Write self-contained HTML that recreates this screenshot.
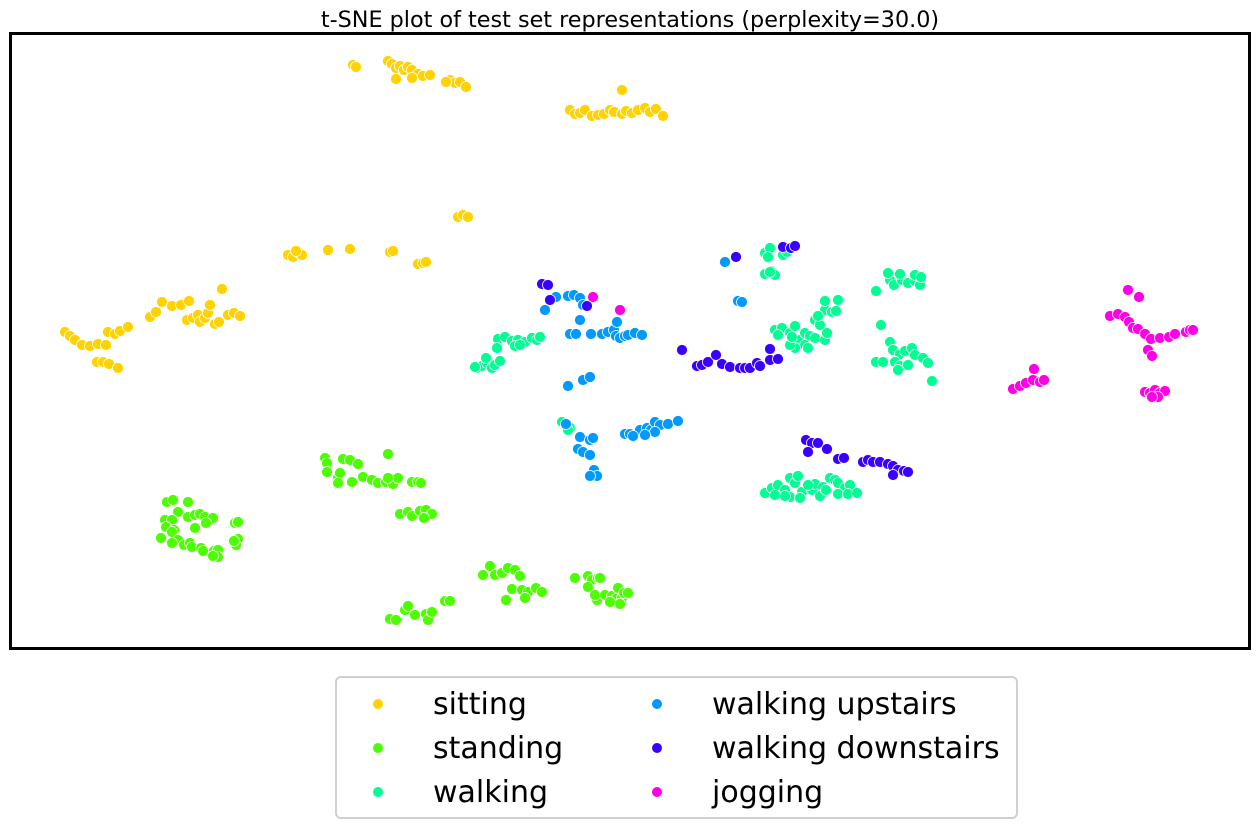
<!DOCTYPE html>
<html><head><meta charset="utf-8"><style>
body{margin:0;background:#fff;}
svg{display:block;font-family:"DejaVu Sans","Liberation Sans",sans-serif;}
</style></head><body>
<svg id="chart" width="1260" height="829" viewBox="0 0 1260 829">
<text x="630" y="27" text-anchor="middle" font-size="22.3" fill="#000">t-SNE plot of test set representations (perplexity=30.0)</text>
<g id="points"></g>
<rect x="10.5" y="33.5" width="1239" height="615" fill="none" stroke="#000" stroke-width="3"/>
<g id="legend"></g>
</svg>
<script>
const categories = ["sitting","standing","walking","walking upstairs","walking downstairs","jogging"];
const colors = ["#ffd200","#4cff00","#00ff92","#0099ff","#3a00ff","#ff00e6"];
const sitting = [[-27.7,27.6],[-27.4,27.4],[-24.2,28.0],[-23.8,27.7],[-23.4,27.3],[-23.0,27.5],[-22.6,27.1],[-22.2,27.4],[-21.8,27.1],[-23.4,26.2],[-21.2,26.7],[-20.7,26.5],[-20.0,26.6],[-21.8,26.3],[-18.0,26.1],[-17.5,25.8],[-17.0,25.9],[-16.4,25.4],[-18.4,25.9],
[-6.0,23.1],[-5.5,22.7],[-5.0,22.8],[-4.5,23.1],[-3.8,22.5],[-3.2,22.6],[-2.6,22.7],[-2.0,23.1],[-1.6,22.9],[-0.8,22.7],[-0.4,23.0],[0.2,22.8],[0.8,23.1],[1.5,23.3],[2.0,22.9],[2.6,23.2],[3.3,22.5],[-0.8,25.1],
[-17.2,12.4],[-16.7,12.6],[-16.2,12.4],
[-34.2,8.6],[-33.7,8.4],[-33.2,8.9],[-32.8,8.6],[-33.4,9.0],[-30.2,9.1],[-28.0,9.2],[-24.0,8.9],[-23.7,9.0],[-21.2,7.7],[-20.7,7.8],[-20.4,7.9],
[-56.5,0.9],[-56.0,0.5],[-55.5,0.1],[-54.8,-0.4],[-54.0,-0.5],[-53.2,-0.3],[-52.4,-0.4],[-52.2,0.9],[-51.5,0.7],[-51.0,1.0],[-50.2,1.4],[-53.3,-2.1],[-52.7,-2.1],[-52.1,-2.3],[-51.2,-2.7],[-48.0,2.4],[-47.4,2.9],[-46.8,3.9],[-45.8,3.5],[-44.9,3.6],[-44.1,4.0],[-44.3,2.1],[-43.7,2.3],[-43.2,2.6],[-43.0,1.9],[-42.5,2.3],[-42.2,2.8],[-41.5,1.7],[-41.1,1.9],[-40.8,5.2],[-40.2,2.6],[-39.6,2.8],[-39.0,2.5],[-42.0,3.6]];
const standing = [[-46.3,-16.1],[-45.7,-15.9],[-45.2,-17.1],[-46.5,-17.9],[-45.8,-17.9],[-46.4,-18.6],[-45.6,-18.9],[-46.9,-19.7],[-45.8,-19.1],[-44.2,-16.1],[-44.2,-17.6],[-43.5,-17.4],[-43.0,-17.3],[-42.5,-17.6],[-41.7,-17.7],[-43.5,-18.7],[-42.4,-18.2],[-45.2,-19.9],[-45.8,-20.2],[-44.6,-20.4],[-44.0,-20.2],[-43.8,-20.6],[-42.9,-20.7],[-42.7,-21.0],[-41.6,-21.0],[-41.2,-20.9],[-41.2,-21.6],[-41.7,-21.5],[-39.5,-18.2],[-39.2,-18.1],[-39.2,-19.8],[-39.4,-20.4],[-39.6,-20.0],
[-30.5,-11.7],[-30.3,-12.2],[-28.7,-11.8],[-28.0,-11.9],[-27.2,-12.3],[-24.2,-11.3],[-30.3,-13.1],[-29.2,-13.7],[-29.0,-13.2],[-29.2,-14.2],[-27.8,-14.1],[-26.7,-13.6],[-25.8,-13.9],[-25.2,-14.2],[-24.4,-14.1],[-23.7,-14.3],[-23.2,-13.7],[-24.2,-13.7],[-21.8,-14.1],[-21.2,-14.1],[-20.9,-14.2],
[-23.0,-17.3],[-22.2,-17.1],[-21.8,-17.5],[-21.0,-17.0],[-20.4,-16.9],[-19.8,-17.3],[-20.6,-17.7],
[-24.0,-27.8],[-23.4,-27.9],[-22.5,-26.9],[-22.2,-26.5],[-21.5,-27.4],[-20.4,-27.3],[-20.2,-27.9],[-19.8,-27.1],[-18.5,-26.0],[-18.0,-26.0],
[-14.7,-23.4],[-14.0,-22.5],[-13.5,-23.4],[-12.8,-23.2],[-12.2,-22.7],[-11.5,-22.9],[-11.0,-23.5],[-12.4,-25.9],[-11.8,-24.8],[-10.8,-24.9],[-10.2,-25.1],[-9.4,-24.7],[-8.8,-25.1],[-10.5,-25.7],
[-5.5,-23.7],[-4.2,-23.5],[-3.8,-23.9],[-3.2,-23.7],[-3.0,-23.7],[-4.2,-24.6],[-3.3,-25.9],[-3.5,-25.4],[-2.5,-25.4],[-1.8,-25.5],[-1.6,-26.1],[-1.2,-24.7],[-1.4,-25.8],[-0.8,-25.7],[-0.6,-25.2],[-0.2,-25.2],[-1.0,-26.3],[-2.0,-26.1]];
const walking = [[-13.2,0.2],[-12.5,0.4],[-11.8,0.0],[-11.2,0.1],[-10.5,-0.1],[-9.8,0.3],[-9.3,0.1],[-9.0,0.4],[-11.5,-0.5],[-11.0,-0.4],[-13.3,-0.7],[-15.3,-2.7],[-14.8,-2.5],[-14.3,-2.2],[-13.8,-2.7],[-14.4,-1.7],[-13.5,-2.4],[-13.0,-2.0],[-15.5,-2.6],
[-6.8,-8.1],[-6.4,-8.4],[-6.0,-8.7],[-6.2,-8.9],
[13.5,8.8],[14.0,9.3],[13.8,8.4],[15.3,8.6],[15.7,8.9],[13.5,6.7],[14.1,7.0],[14.5,6.6],[14.0,6.9],
[14.5,1.1],[15.2,1.3],[16.0,0.8],[16.5,1.5],[16.8,0.1],[17.5,0.8],[18.0,0.5],[18.5,2.1],[19.0,1.6],[19.5,3.1],[20.2,2.9],[20.8,4.1],[20.6,3.0],[19.5,4.0],[18.5,0.3],[17.5,-0.4],[17.8,-0.7],[16.5,-0.7],[16.0,-0.4],[14.8,0.6],[16.2,0.4],[18.8,2.5],[19.5,0.1],[19.7,0.8],
[24.6,5.0],[26.0,6.1],[26.4,5.6],[27.2,6.1],[27.8,5.8],[28.5,6.0],[29.0,5.6],[25.8,6.8],[27.0,6.7],[28.5,6.6],[29.1,6.4],[25.1,1.6],[26.0,-0.1],[26.3,-0.9],[27.0,-1.3],[27.5,-1.0],[28.2,-0.7],[28.5,-1.4],[29.3,-1.7],[29.8,-2.2],[30.2,-4.0],[24.6,-2.1],[25.3,-2.1],[26.5,-2.1],[27.0,-2.5],[26.8,-2.9],[27.8,-2.4],
[13.5,-15.2],[14.2,-14.7],[14.8,-14.4],[15.5,-14.9],[16.0,-13.7],[16.5,-14.2],[16.8,-13.5],[16.0,-15.6],[17.2,-15.1],[18.2,-14.9],[18.5,-14.3],[19.3,-14.6],[19.0,-15.5],[20.0,-13.7],[20.5,-13.9],[20.8,-14.2],[21.5,-14.7],[22.0,-14.4],[20.8,-15.3],[21.8,-15.3],[22.7,-15.2],[17.0,-15.7],[14.5,-15.4],[15.5,-15.5],[17.8,-14.4],[19.6,-14.9]];
const upstairs = [[-8.5,3.1],[-7.4,4.4],[-6.2,4.5],[-5.6,4.6],[-5.0,4.3],[-4.7,3.6],[-5.0,2.1],[-6.0,0.7],[-5.4,0.7],[-3.9,0.7],[-2.8,0.7],[-2.2,0.9],[-1.6,1.1],[-1.4,0.5],[-1.0,0.3],[-0.5,0.5],[-0.2,0.6],[0.5,0.8],[1.2,0.6],[-1.3,1.9],[-6.2,-4.5],[-4.7,-3.9],[-4.0,-3.6],[9.5,7.9],[10.8,4.0],[11.2,3.9],
[-6.4,-8.3],[-5.0,-9.6],[-4.0,-9.9],[-3.7,-9.7],[-5.2,-10.8],[-4.7,-11.1],[-4.0,-11.4],[-3.6,-12.9],[-3.3,-13.5],[-4.0,-13.5],[-0.5,-9.3],[0.0,-9.3],[1.0,-8.9],[1.7,-8.7],[2.1,-8.9],[2.5,-8.1],[3.0,-8.4],[3.8,-8.3],[4.8,-8.0],[2.5,-9.1],[1.5,-9.4],[0.3,-9.5]];
const downstairs = [[-8.8,5.7],[-8.2,5.6],[-8.0,4.1],[-4.3,3.5],[5.2,-0.9],[6.7,-2.5],[7.2,-2.4],[7.8,-2.1],[8.6,-1.4],[9.2,-2.3],[10.0,-2.6],[11.0,-2.7],[11.5,-2.7],[12.0,-2.7],[12.7,-2.2],[13.0,-2.5],[14.0,-0.8],[14.0,-1.9],[14.8,-1.8],[10.6,8.4],[15.3,9.4],[16.1,9.3],[16.5,9.5],[17.6,-9.9],[18.2,-10.2],[18.8,-10.2],[17.8,-11.1],[19.7,-10.8],[20.8,-11.8],[21.4,-11.7],[23.3,-12.1],[23.8,-11.9],[24.3,-12.1],[25.0,-12.1],[25.8,-12.3],[26.3,-12.5],[26.8,-12.9],[27.4,-13.0],[27.8,-13.1],[26.3,-13.4]];
const jogging = [[49.8,5.1],[50.9,4.4],[48.0,2.5],[48.8,2.7],[49.5,2.4],[49.9,1.9],[50.3,1.3],[50.8,1.2],[51.5,0.7],[52.1,0.2],[53.0,0.3],[53.9,0.4],[51.8,-0.9],[52.2,-1.5],[54.5,0.7],[55.6,0.9],[56.0,1.1],[56.3,1.1],[38.3,-4.8],[39.0,-4.5],[39.6,-4.2],[40.3,-3.9],[41.0,-4.1],[41.4,-3.9],[40.4,-2.8],[51.5,-5.1],[52.0,-5.2],[52.5,-4.9],[53.0,-5.2],[53.5,-5.0],[52.8,-5.6],[52.2,-5.6],[-3.7,4.4],[-1.0,3.1]];
const series = [sitting, standing, walking, upstairs, downstairs, jogging];
const xDomain = [-62, 62];
const yDomain = [-30.8, 30.8];

const NS = "http://www.w3.org/2000/svg";
const PX0 = 10, PX1 = 1250, PY0 = 649, PY1 = 33;
function sx(v){ return PX0 + (v - xDomain[0]) / (xDomain[1] - xDomain[0]) * (PX1 - PX0); }
function sy(v){ return PY0 - (v - yDomain[0]) / (yDomain[1] - yDomain[0]) * (PY0 - PY1); }

const g = document.getElementById("points");
series.forEach(function(pts, ci){
  pts.forEach(function(p, i){
    const c = document.createElementNS(NS, "circle");
    c.setAttribute("cx", sx(p[0]).toFixed(1));
    c.setAttribute("cy", sy(p[1]).toFixed(1));
    c.setAttribute("r", "5.5");
    c.setAttribute("fill", colors[ci]);
    c.setAttribute("stroke", "#fff");
    c.setAttribute("stroke-width", "0.8");
    
    
    g.appendChild(c);
  });
});

const lg = document.getElementById("legend");
const box = document.createElementNS(NS, "rect");
box.setAttribute("x", "336"); box.setAttribute("y", "677");
box.setAttribute("width", "681"); box.setAttribute("height", "141");
box.setAttribute("rx", "5"); box.setAttribute("fill", "#fff");
box.setAttribute("stroke", "#d0d0d0"); box.setAttribute("stroke-width", "2");


lg.appendChild(box);
categories.forEach(function(name, i){
  const col = Math.floor(i / 3), row = i % 3;
  const mx = col === 0 ? 378 : 657, tx = col === 0 ? 433 : 712;
  const y = 704 + row * 44;
  const eg = document.createElementNS(NS, "g");
  
  
  const m = document.createElementNS(NS, "circle");
  m.setAttribute("cx", mx); m.setAttribute("cy", y); m.setAttribute("r", "5");
  m.setAttribute("fill", colors[i]);
  eg.appendChild(m);
  const t = document.createElementNS(NS, "text");
  t.setAttribute("x", tx); t.setAttribute("y", y + 10);
  t.setAttribute("font-size", "30"); t.setAttribute("fill", "#000");
  t.textContent = name;
  eg.appendChild(t);
  lg.appendChild(eg);
});
</script>
</body></html>
